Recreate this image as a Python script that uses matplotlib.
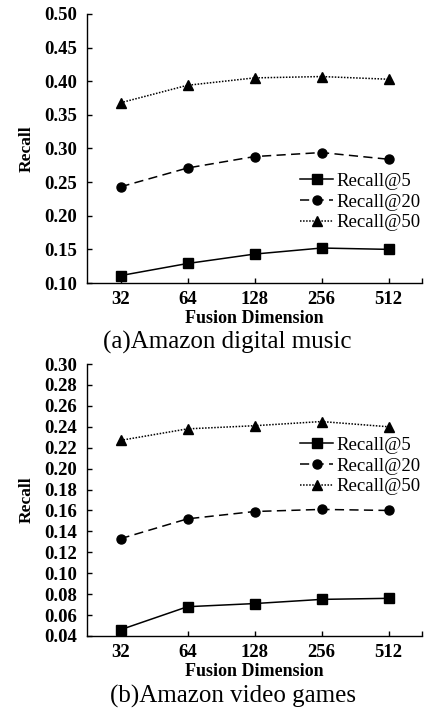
import matplotlib
matplotlib.use("Agg")
import matplotlib.pyplot as plt
from matplotlib.ticker import FixedLocator

plt.rcParams['font.family'] = ['Liberation Serif', 'DejaVu Serif']

dims = ["32", "64", "128", "256", "512"]
series_names = ["Recall@5", "Recall@20", "Recall@50"]

music_r5 = [0.111, 0.129, 0.143, 0.152, 0.150]
music_r20 = [0.243, 0.271, 0.288, 0.294, 0.284]
music_r50 = [0.368, 0.394, 0.405, 0.407, 0.403]

games_r5 = [0.046, 0.068, 0.071, 0.075, 0.076]
games_r20 = [0.133, 0.152, 0.159, 0.161, 0.160]
games_r50 = [0.227, 0.238, 0.241, 0.245, 0.240]

music_yticks = [0.10, 0.15, 0.20, 0.25, 0.30, 0.35, 0.40, 0.45, 0.50]
games_yticks = [0.04, 0.06, 0.08, 0.10, 0.12, 0.14, 0.16, 0.18, 0.20, 0.22, 0.24, 0.26, 0.28, 0.30]

W, H = 428, 711
fig = plt.figure(figsize=(W / 100, H / 100), dpi=100)

styles = [
    dict(marker='s', linestyle='-', markersize=7.5),
    dict(marker='o', linestyle=(0, (6, 3.5)), markersize=6.5),
    dict(marker='^', linestyle=(0, (1, 1)), markersize=7.5),
]


def px_axes(l, r, t, b):
    return fig.add_axes([l / W, 1 - b / H, (r - l) / W, (b - t) / H])


def draw(ax, data, yticks, ylim, fmt, legend_center_y, caption, cap_x, cap_y, top, bot):
    x = list(range(len(dims)))
    for vals, name, st in zip(data, series_names, styles):
        ax.plot(x, vals, color='black', linewidth=1.1, label=name,
                markerfacecolor='black', markeredgecolor='black', **st)
    ax.set_xlim(-0.5, len(dims) - 0.5)
    ax.set_ylim(*ylim)
    ax.set_xticks(x)
    ax.set_xticklabels(dims)
    ax.xaxis.set_minor_locator(FixedLocator([len(dims) - 0.5]))
    ax.set_yticks(yticks)
    ax.set_yticklabels([fmt.format(v) for v in yticks])
    for s in ['top', 'right']:
        ax.spines[s].set_visible(False)
    for s in ['left', 'bottom']:
        ax.spines[s].set_linewidth(1.0)
    ax.tick_params(axis='both', which='both', direction='in', length=3.5, width=1.0,
                   labelsize=13.5)
    ax.tick_params(axis='y', pad=7)
    ax.tick_params(axis='x', pad=6)
    for lab in ax.get_xticklabels() + ax.get_yticklabels():
        lab.set_fontweight('bold')
    ax.set_xlabel("Fusion Dimension", fontsize=13, fontweight='bold', labelpad=1)
    ax.set_ylabel("Recall", fontsize=12.5, fontweight='bold', labelpad=7)
    ax.legend(loc='center', bbox_to_anchor=((360 - 87) / 335, 1 - (legend_center_y - top) / (bot - top)),
              frameon=False, fontsize=13.5, handlelength=1.8, handletextpad=0.15,
              labelspacing=0.2, borderpad=0)
    fig.text(cap_x / W, 1 - cap_y / H, caption, fontsize=18, ha='center', va='center')


ax1 = px_axes(87, 422, 14, 283)
draw(ax1, [music_r5, music_r20, music_r50], music_yticks, (0.10, 0.50), "{:.2f}",
     202, "(a)Amazon digital music", 227, 342, 14, 283)

ax2 = px_axes(87, 422, 364, 636)
draw(ax2, [games_r5, games_r20, games_r50], games_yticks, (0.04, 0.30), "{:.2f}",
     466, "(b)Amazon video games", 233, 696, 364, 636)

fig.savefig("out.png", dpi=100)
